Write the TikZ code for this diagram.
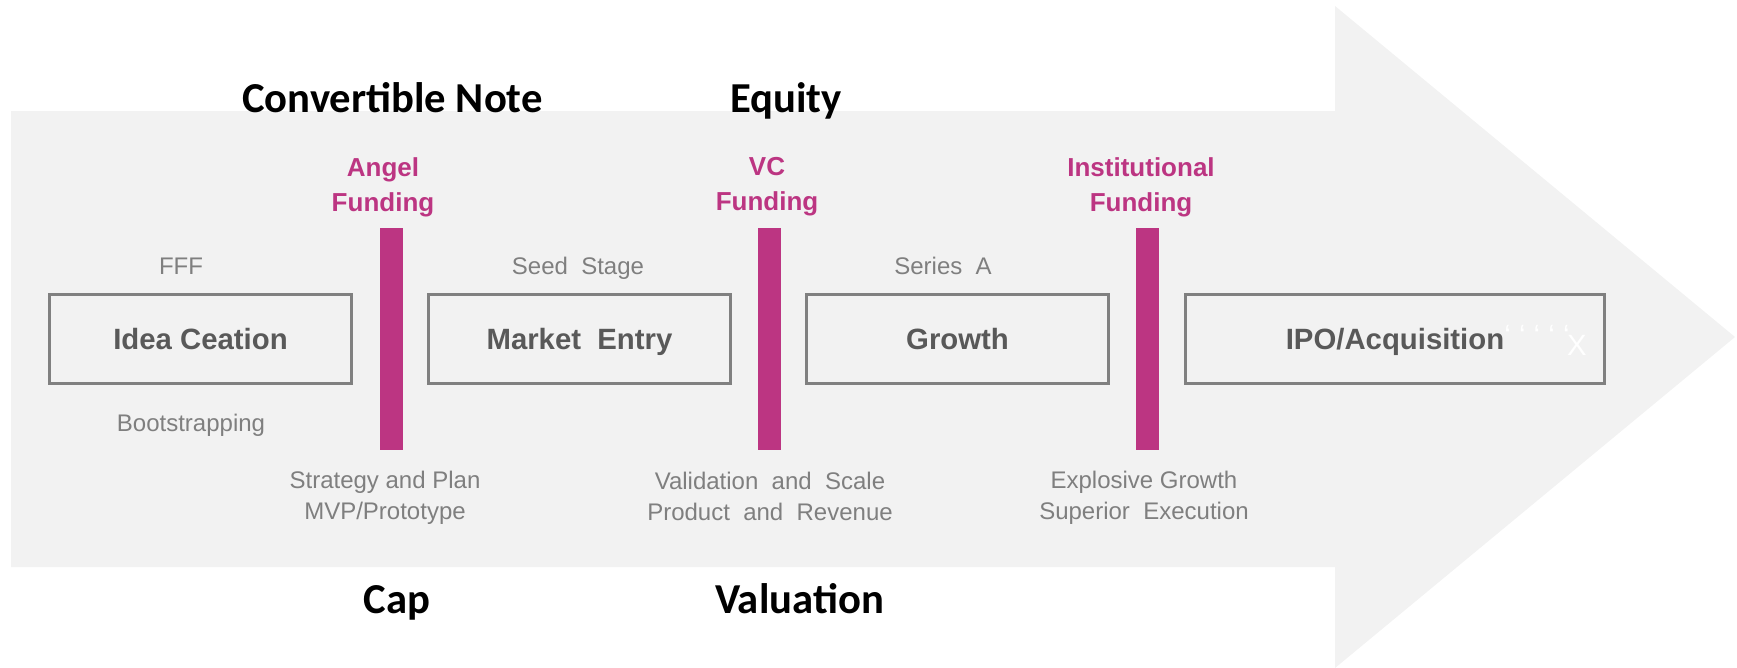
\documentclass[tikz,border=0pt]{standalone}
\usepackage{fontspec}
\setmainfont{Liberation Sans}
\newfontfamily\headfont{Carlito}
\usetikzlibrary{positioning}

\definecolor{bandgray}{HTML}{F2F2F2}
\definecolor{framegray}{HTML}{808080}
\definecolor{stagetext}{HTML}{595959}
\definecolor{notegray}{HTML}{7F7F7F}
\definecolor{fundpink}{HTML}{BC3582}

\begin{document}
\begin{tikzpicture}[
    x=0.75pt, y=-0.75pt,
    stage/.style={rectangle, draw=framegray, line width=2.2pt,
                  minimum width=226.5pt, minimum height=66.75pt, inner sep=0pt,
                  text=stagetext, font=\bfseries\fontsize{22}{26}\selectfont,
                  text height=16.3pt, text depth=0.7pt},
    fundbar/.style={rectangle, fill=fundpink, minimum width=17.25pt,
                    minimum height=166.5pt, inner sep=0pt},
    fund/.style={text=fundpink, font=\bfseries\fontsize{19.5}{26.25}\selectfont,
                 align=center, inner sep=0pt},
    note/.style={text=notegray, font=\fontsize{18}{23.25}\selectfont,
                 align=center, inner sep=0pt},
    head/.style={font=\headfont\bfseries\fontsize{32}{38}\selectfont,
                 anchor=base, inner sep=0pt}
]
    \useasboundingbox (0,0) rectangle (1737,667);

    % big background arrow
    \fill[bandgray] (11,111) -- (1335,111) -- (1335,6) -- (1735,337)
        -- (1335,668) -- (1335,567) -- (11,567) -- cycle;

    % stages
    \node (idea) [stage] at (200.5,339) {Idea Ceation};
    \node (market) [stage] at (579.5,339) {Market\ \ Entry};
    \node (growth) [stage] at (957.5,339) {Growth};
    \node (ipo) [stage, minimum width=314.25pt] at (1395,339) {IPO/Acquisition};
    \node (ticks) [text=white, font=\fontsize{22}{26}\selectfont, anchor=base,
                   inner sep=0pt] at (1537,345) {‘\ ‘\ ‘\ ‘\ ‘};
    \node (cross) [text=white, font=\fontsize{22}{26}\selectfont, anchor=base,
                   inner sep=0pt] at (1577,355) {X};

    % funding rounds
    \node (angelbar) [fundbar] at (391,339) {};
    \node (vcbar) [fundbar] at (769,339) {};
    \node (instbar) [fundbar] at (1147,339) {};
    \node (angel) [fund] at (383,187) {Angel\\Funding};
    \node (vc) [fund] at (767,187) {VC\\Funding};
    \node (inst) [fund] at (1141,187) {Institutional\\Funding};

    % notes around the stages
    \node (fff) [note, anchor=base] at (181,274.5) {FFF};
    \node (boot) [note, anchor=base] at (191,431) {Bootstrapping};
    \node (seed) [note, anchor=base] at (578,274.5) {Seed\ \ Stage};
    \node (seriesa) [note, anchor=base] at (943,274.5) {Series\ \ A};
    \node (strategy) [note] at (385,498) {Strategy and Plan\\MVP/Prototype};
    \node (validation) [note] at (770,496) {Validation\ \ and\ \ Scale\\Product\ \ and\ \ Revenue};
    \node (explosive) [note] at (1144,498) {Explosive Growth\\Superior\ \ Execution};

    % instruments
    \node (convertible) [head] at (392.5,113) {Convertible Note};
    \node (equity) [head] at (786,113) {Equity};
    \node (cap) [head] at (397,613) {Cap};
    \node (valuation) [head] at (799.5,613) {Valuation};
\end{tikzpicture}
\end{document}
